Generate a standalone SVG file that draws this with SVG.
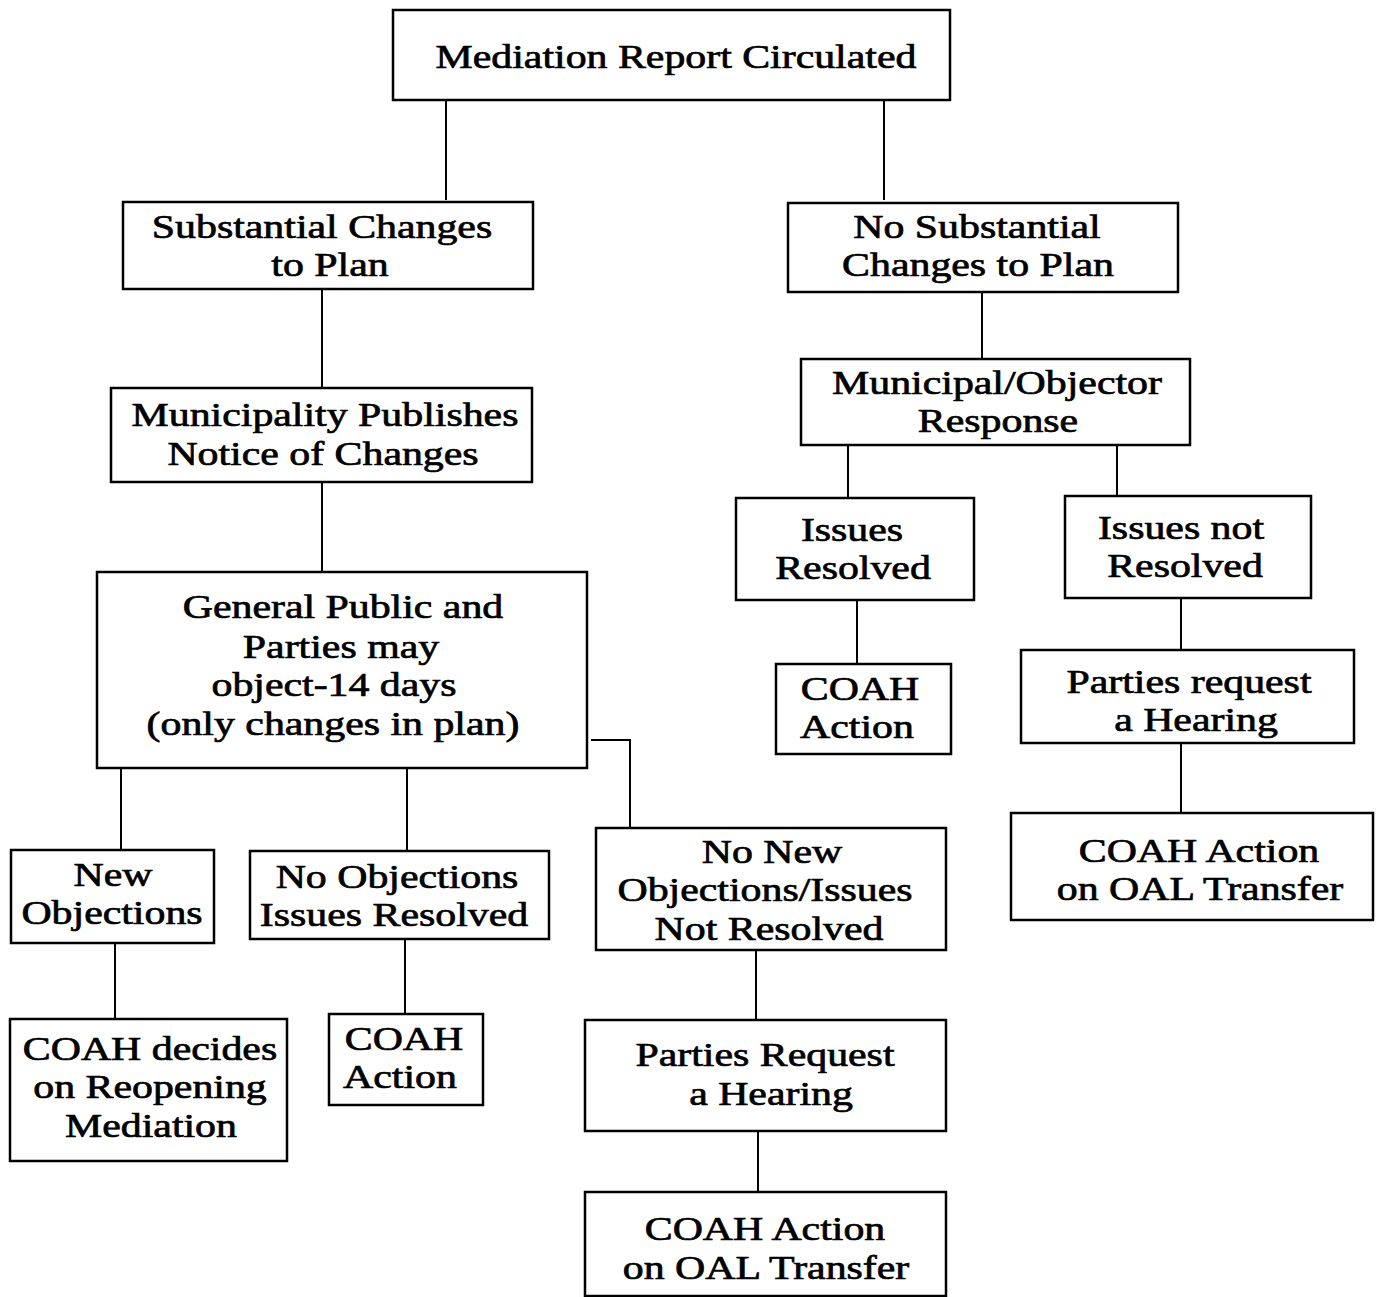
<svg xmlns="http://www.w3.org/2000/svg" width="1377" height="1297" viewBox="0 0 1377 1297">
<style>
.box{fill:#fff;stroke:#000;stroke-width:2.5}
.t{font-family:"Liberation Serif","Times New Roman",serif;font-size:34px;fill:#000;stroke:#000;stroke-width:0.7;text-anchor:middle}
.c{fill:none;stroke:#000;stroke-width:2}
</style>
<rect width="1377" height="1297" fill="#fff"/>
<g id="connectors">
<path class="c" d="M446 100V200"/>
<path class="c" d="M884 100V200"/>
<path class="c" d="M322 289V388"/>
<path class="c" d="M982 292V359"/>
<path class="c" d="M322 482V572"/>
<path class="c" d="M848 445V498"/>
<path class="c" d="M1117 445V496"/>
<path class="c" d="M857 600V664"/>
<path class="c" d="M1181 598V650"/>
<path class="c" d="M1181 743V813"/>
<path class="c" d="M121 768V850"/>
<path class="c" d="M407 768V851"/>
<path class="c" d="M591 740H630V828"/>
<path class="c" d="M115 943V1019"/>
<path class="c" d="M405 939V1014"/>
<path class="c" d="M756 950V1020"/>
<path class="c" d="M758 1131V1192"/>
</g>
<g id="n1"><rect class="box" x="393" y="10" width="557" height="90"/><text class="t" transform="translate(676 68) scale(1.23 1)">Mediation Report Circulated</text></g>
<g id="n2"><rect class="box" x="123" y="202" width="410" height="87"/><text class="t" transform="translate(322 238) scale(1.23 1)">Substantial Changes</text><text class="t" transform="translate(330 276) scale(1.23 1)">to Plan</text></g>
<g id="n3"><rect class="box" x="788" y="203" width="390" height="89"/><text class="t" transform="translate(977 238) scale(1.23 1)">No Substantial</text><text class="t" transform="translate(978 276) scale(1.23 1)">Changes to Plan</text></g>
<g id="n4"><rect class="box" x="111" y="388" width="421" height="94"/><text class="t" transform="translate(325 426) scale(1.23 1)">Municipality Publishes</text><text class="t" transform="translate(323 465) scale(1.23 1)">Notice of Changes</text></g>
<g id="n5"><rect class="box" x="801" y="359" width="389" height="86"/><text class="t" transform="translate(997 394) scale(1.23 1)">Municipal/Objector</text><text class="t" transform="translate(998 432) scale(1.23 1)">Response</text></g>
<g id="n6"><rect class="box" x="97" y="572" width="490" height="196"/><text class="t" transform="translate(343 618) scale(1.23 1)">General Public and</text><text class="t" transform="translate(341 658) scale(1.23 1)">Parties may</text><text class="t" transform="translate(334 696) scale(1.23 1)">object-14 days</text><text class="t" transform="translate(333 735) scale(1.23 1)">(only changes in plan)</text></g>
<g id="n7"><rect class="box" x="736" y="498" width="238" height="102"/><text class="t" transform="translate(852 541) scale(1.23 1)">Issues</text><text class="t" transform="translate(853 579) scale(1.23 1)">Resolved</text></g>
<g id="n8"><rect class="box" x="1065" y="496" width="246" height="102"/><text class="t" transform="translate(1181 539) scale(1.23 1)">Issues not</text><text class="t" transform="translate(1185 577) scale(1.23 1)">Resolved</text></g>
<g id="n9"><rect class="box" x="776" y="664" width="175" height="90"/><text class="t" transform="translate(860 700) scale(1.23 1)">COAH</text><text class="t" transform="translate(857 738) scale(1.23 1)">Action</text></g>
<g id="n10"><rect class="box" x="1021" y="650" width="333" height="93"/><text class="t" transform="translate(1189 693) scale(1.23 1)">Parties request</text><text class="t" transform="translate(1196 731) scale(1.23 1)">a Hearing</text></g>
<g id="n11"><rect class="box" x="1011" y="813" width="362" height="107"/><text class="t" transform="translate(1199 862) scale(1.23 1)">COAH Action</text><text class="t" transform="translate(1200 900) scale(1.23 1)">on OAL Transfer</text></g>
<g id="n12"><rect class="box" x="11" y="850" width="203" height="93"/><text class="t" transform="translate(113 886) scale(1.23 1)">New</text><text class="t" transform="translate(112 924) scale(1.23 1)">Objections</text></g>
<g id="n13"><rect class="box" x="250" y="851" width="299" height="88"/><text class="t" transform="translate(397 888) scale(1.23 1)">No Objections</text><text class="t" transform="translate(394 926) scale(1.23 1)">Issues Resolved</text></g>
<g id="n14"><rect class="box" x="596" y="828" width="350" height="122"/><text class="t" transform="translate(772 863) scale(1.23 1)">No New</text><text class="t" transform="translate(765 901) scale(1.23 1)">Objections/Issues</text><text class="t" transform="translate(769 940) scale(1.23 1)">Not Resolved</text></g>
<g id="n15"><rect class="box" x="10" y="1019" width="277" height="142"/><text class="t" transform="translate(150 1060) scale(1.23 1)">COAH decides</text><text class="t" transform="translate(150 1098) scale(1.23 1)">on Reopening</text><text class="t" transform="translate(151 1137) scale(1.23 1)">Mediation</text></g>
<g id="n16"><rect class="box" x="329" y="1014" width="154" height="91"/><text class="t" transform="translate(404 1050) scale(1.23 1)">COAH</text><text class="t" transform="translate(400 1088) scale(1.23 1)">Action</text></g>
<g id="n17"><rect class="box" x="585" y="1020" width="361" height="111"/><text class="t" transform="translate(765 1066) scale(1.23 1)">Parties Request</text><text class="t" transform="translate(771 1105) scale(1.23 1)">a Hearing</text></g>
<g id="n18"><rect class="box" x="585" y="1192" width="361" height="104"/><text class="t" transform="translate(765 1240) scale(1.23 1)">COAH Action</text><text class="t" transform="translate(766 1279) scale(1.23 1)">on OAL Transfer</text></g>
</svg>
